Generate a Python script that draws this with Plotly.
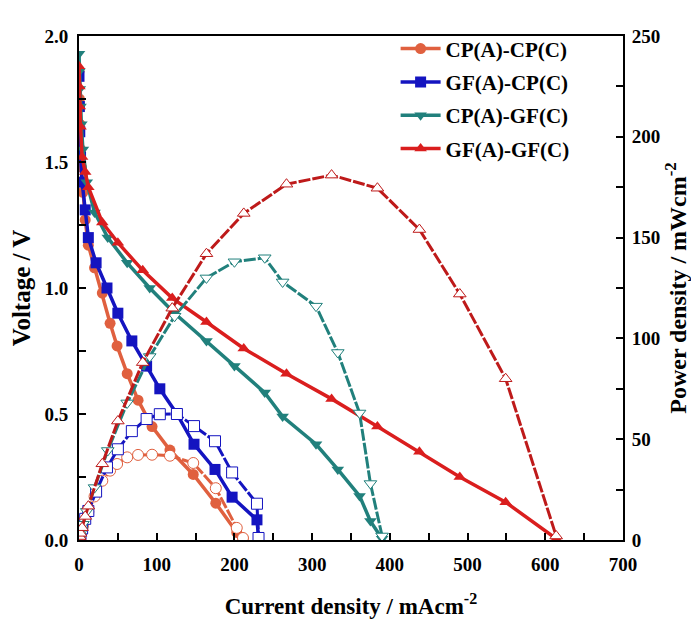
import plotly.graph_objects as go

# ---- data ----
series_names = ["CP(A)-CP(C)", "GF(A)-CP(C)", "CP(A)-GF(C)", "GF(A)-GF(C)"]

# CP(A)-CP(C)
j_cc = [0, 0.5, 1, 2, 3, 5, 8, 12, 20, 30, 40, 49, 62, 76, 94, 117, 147, 176, 203, 211]
v_cc = [1.86, 1.75, 1.65, 1.55, 1.48, 1.38, 1.27, 1.17, 1.08, 0.98, 0.86, 0.77, 0.66, 0.555, 0.45, 0.357, 0.26, 0.146, 0.03, 0.005]
p_cc = [0, 0.9, 1.7, 3.1, 4.4, 6.9, 10.2, 14, 21.6, 29.4, 34.4, 37.7, 41, 42.2, 42.3, 41.8, 38.2, 25.7, 6, 1]

# GF(A)-CP(C)
j_gc = [0, 0.5, 1, 2, 4, 8, 12, 22, 36, 50, 68, 87, 104, 126, 148, 175, 197, 229, 231]
v_gc = [1.84, 1.72, 1.62, 1.52, 1.42, 1.31, 1.20, 1.10, 1.00, 0.90, 0.79, 0.69, 0.60, 0.50, 0.38, 0.28, 0.17, 0.08, 0.01]
p_gc = [0, 0.9, 1.6, 3.0, 5.7, 10.5, 14.4, 24, 36, 45, 54, 60, 62.4, 62.5, 56.5, 49, 33.5, 18, 1]

# CP(A)-GF(C)
j_cg = [0, 0.5, 1, 2, 3, 5, 10, 20, 37, 62, 91, 123, 164, 200, 239, 262, 305, 333, 361, 375, 390]
v_cg = [1.93, 1.86, 1.79, 1.72, 1.65, 1.55, 1.42, 1.30, 1.20, 1.10, 1.00, 0.90, 0.79, 0.69, 0.585, 0.49, 0.38, 0.28, 0.175, 0.075, 0.005]
p_cg = [0, 0.9, 1.8, 3.4, 5, 7.8, 14.2, 26, 44.4, 68, 91, 111, 130, 138, 140, 128, 116, 93, 63, 28, 2]

# GF(A)-GF(C)
j_gg = [0, 0.5, 1, 2, 4, 8, 12, 30, 50, 82, 120, 164, 212, 267, 325, 384, 438, 490, 549, 614]
v_gg = [1.88, 1.80, 1.72, 1.64, 1.52, 1.46, 1.40, 1.26, 1.18, 1.07, 0.96, 0.865, 0.76, 0.66, 0.56, 0.45, 0.35, 0.25, 0.15, 0.005]
p_gg = [0, 0.9, 1.7, 3.3, 6.1, 11.7, 16.8, 37.8, 59, 88, 115, 142, 162, 176.5, 181, 174.5, 154, 122, 80, 2]

x_ticks = [0, 100, 200, 300, 400, 500, 600, 700]
y_ticks = [0.0, 0.5, 1.0, 1.5, 2.0]
y2_ticks = [0, 50, 100, 150, 200, 250]

colors = ["#E0603F", "#1414C0", "#21807C", "#DA1E1E"]
power_colors = ["#E0603F", "#1414C0", "#21807C", "#BE1A1A"]
filled_symbols = ["circle", "square", "triangle-down", "triangle-up"]
js = [j_cc, j_gc, j_cg, j_gg]
vs = [v_cc, v_gc, v_cg, v_gg]
ps = [p_cc, p_gc, p_cg, p_gg]

FONT = "Liberation Serif"

fig = go.Figure()
for i in range(4):
    fig.add_trace(go.Scatter(
        x=js[i], y=ps[i], yaxis="y2", mode="lines+markers",
        line=dict(color=power_colors[i], width=3, dash="12px,2px"),
        marker=dict(symbol=filled_symbols[i], size=11, color="white",
                    line=dict(color=power_colors[i], width=1)),
        showlegend=False, name=series_names[i] + " power"))
for i in range(4):
    fig.add_trace(go.Scatter(
        x=js[i], y=vs[i], mode="lines+markers",
        line=dict(color=colors[i], width=3.5),
        marker=dict(symbol=filled_symbols[i], size=11, color=colors[i]),
        name=series_names[i], legendgroup=series_names[i]))

axis_common = dict(showline=True, linecolor="black", linewidth=2, ticks="inside",
                   ticklen=7, tickwidth=2, tickcolor="black", showgrid=False, zeroline=False,
                   automargin=False,
                   tickfont=dict(family=FONT, size=19, color="black", weight="bold"))

# the page adds an 8px body margin, so the figure is sized to fit inside it
fig.update_layout(
    width=683, height=620,
    margin=dict(l=71, r=68, t=28, b=88),
    paper_bgcolor="white", plot_bgcolor="white",
    font=dict(family=FONT, color="black"),
    xaxis=dict(range=[0, 700], tickvals=x_ticks, mirror=True, ticklabelstandoff=6,
               minor=dict(ticks="inside", ticklen=7, tickwidth=2, dtick=50, tickcolor="black"),
               title=dict(text="Current density / mAcm<sup>-2</sup>", standoff=24,
                          font=dict(family=FONT, size=23, weight="bold")),
               **axis_common),
    yaxis=dict(range=[0, 2.0], tickvals=y_ticks, tickformat=".1f", mirror=False,
               ticklabelstandoff=5,
               minor=dict(ticks="inside", ticklen=7, tickwidth=2, dtick=0.25, tickcolor="black"),
               title=dict(text="Voltage / V", standoff=8,
                          font=dict(family=FONT, size=25, weight="bold")),
               **axis_common),
    yaxis2=dict(range=[0, 250], tickvals=y2_ticks, overlaying="y", side="right",
                ticklabelstandoff=3,
                minor=dict(ticks="inside", ticklen=7, tickwidth=2, dtick=25, tickcolor="black"),
                title=dict(text="Power density / mWcm<sup>-2</sup>", standoff=10,
                           font=dict(family=FONT, size=24, weight="bold")),
                **axis_common),
    legend=dict(x=0.582, y=1.015, xanchor="left", yanchor="top", bgcolor="rgba(0,0,0,0)",
                font=dict(family=FONT, size=21, weight="bold", color="black"),
                tracegroupgap=3, itemwidth=40),
)

fig.write_html("out.html")
